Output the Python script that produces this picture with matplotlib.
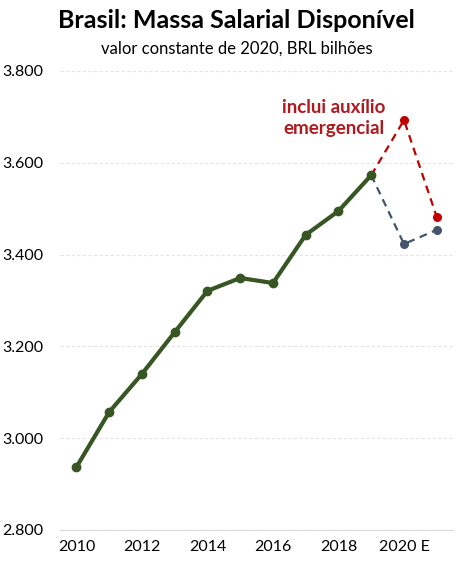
import matplotlib
matplotlib.use('Agg')
import matplotlib.pyplot as plt
from matplotlib.ticker import FuncFormatter

plt.rcParams['font.family'] = ['Lato', 'DejaVu Sans']

# dados
anos = [2010, 2011, 2012, 2013, 2014, 2015, 2016, 2017, 2018, 2019]
massa = [2937, 3057, 3140, 3231, 3321, 3349, 3338, 3443, 3495, 3573]
anos_proj = [2019, 2020, 2021]
com_auxilio = [3573, 3693, 3482]
sem_auxilio = [3573, 3423, 3454]
xticks = [2010, 2012, 2014, 2016, 2018, 2020]
xlabels = ['2010', '2012', '2014', '2016', '2018', '2020 E']

verde = '#375623'
vermelho = '#C00000'
texto_vermelho = '#B01A1E'
cinza = '#44546A'

fig = plt.figure(figsize=(4.73, 5.67), dpi=100)
ax = fig.add_axes([0.127, 0.0653, 0.831, 0.8095])

ax.plot(anos_proj, sem_auxilio, color=cinza, lw=1.6, ls=(0, (3.5, 2.5)),
        marker='o', ms=5.5, zorder=2, markevery=[1, 2])
ax.plot(anos_proj, com_auxilio, color=vermelho, lw=1.6, ls=(0, (3.5, 2.5)),
        marker='o', ms=5.5, zorder=2, markevery=[1, 2])
ax.plot(anos, massa, color=verde, lw=3, marker='o', ms=6, zorder=3)

ax.text(2017.85, 3697, 'inclui auxílio\nemergencial', color=texto_vermelho,
        fontsize=13.5, fontweight='bold', ha='center', va='center',
        linespacing=1.3)

ax.set_xlim(2009.5, 2021.5)
ax.set_ylim(2800, 3800)
ax.set_yticks([2800, 3000, 3200, 3400, 3600, 3800])
ax.yaxis.set_major_formatter(FuncFormatter(lambda v, p: f'{v/1000:.3f}'))
ax.set_xticks(xticks)
ax.set_xticklabels(xlabels)
ax.tick_params(length=0, labelsize=11.5, colors='black')
ax.tick_params(axis='y', pad=12)
ax.tick_params(axis='x', pad=7)

ax.grid(axis='y', color='#E4E4E4', lw=0.8, ls=(0, (3, 2)))
for s in ['top', 'right', 'left']:
    ax.spines[s].set_visible(False)
ax.spines['bottom'].set_color('#D9D9D9')

fig.text(0.5, 0.963, 'Brasil: Massa Salarial Disponível', ha='center',
         va='center', fontsize=18, fontweight='bold')
fig.text(0.5, 0.915, 'valor constante de 2020, BRL bilhões', ha='center',
         va='center', fontsize=12)

fig.savefig('out.png', dpi=100)
